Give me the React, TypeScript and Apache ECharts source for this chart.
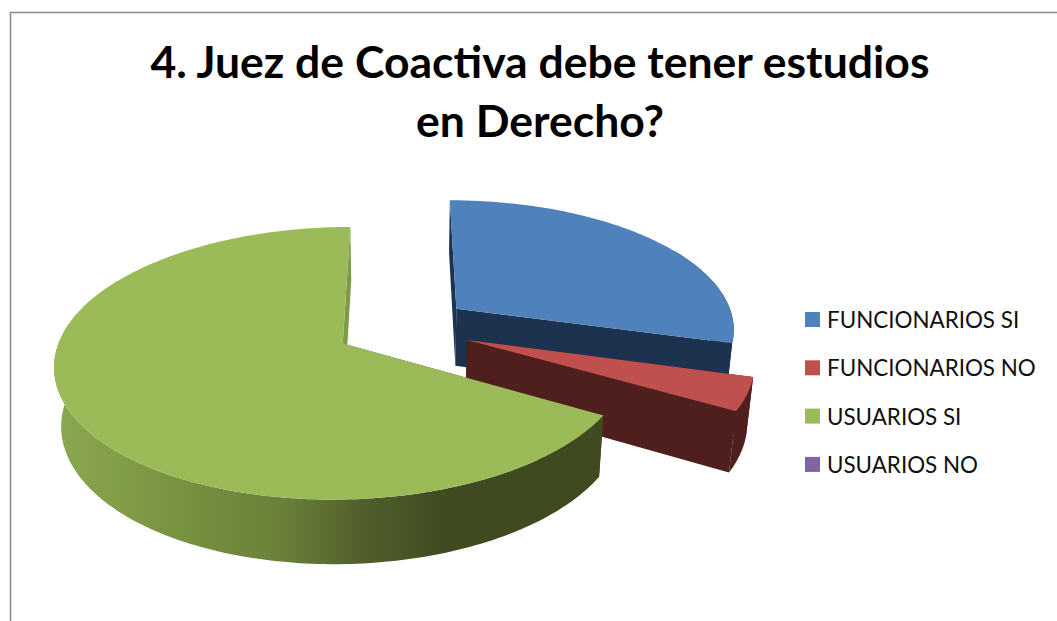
import React, { useEffect, useRef } from "react";
import * as echarts from "echarts";

// Survey answers for question 4, one slice per legend entry.
const categories = ["FUNCIONARIOS SI", "FUNCIONARIOS NO", "USUARIOS SI", "USUARIOS NO"];
const values = [22, 3, 50, 0];
const topColors = ["#4f81bd", "#c0504d", "#9bbb59", "#8064a2"];
const wallColors = ["#1d324f", "#4f1f1e", "#7f9b49", "#40304f"];
const titleText = "4. Juez de Coactiva debe tener estudios\nen Derecho?";

// Camera used to project the pie's unit disc onto the canvas.
const VX = 403;
const VY = 327.5;
const SCALE_X = 285;
const SCALE_Y = 131.5;
const THICKNESS = 59;
const PERSPECTIVE = 0.145;
const DEPTH_SHRINK = 0.02;
const RADIUS = 0.98;
const EXPLODE = 0.24;
const START_ANGLE = 0;
// Only this range of the rim faces the viewer.
const RIM_FROM = 60;
const RIM_TO = 300;

type Pt = [number, number];

const project = (X: number, Y: number, z: number): Pt => {
  const w = 1 + PERSPECTIVE * Y + DEPTH_SHRINK * z;
  return [VX + (SCALE_X * X) / w, VY - (SCALE_Y * Y - THICKNESS * z) / w];
};

const total = values.reduce((a, b) => a + b, 0);

const sliceAngles = values.map((v, i) => {
  const before = values.slice(0, i).reduce((a, b) => a + b, 0);
  const from = START_ANGLE + (before / total) * 360;
  return { from, to: from + (v / total) * 360 };
});

const rad = (deg: number) => (deg * Math.PI) / 180;

// Green's rim fades from lit to shadowed across the width of the pie.
const rimFill = (i: number): any =>
  i === 2
    ? new echarts.graphic.LinearGradient(
        54,
        0,
        450,
        0,
        [
          { offset: 0, color: "#8ba94f" },
          { offset: 0.35, color: "#75903f" },
          { offset: 0.58, color: "#6a8039" },
          { offset: 0.78, color: "#515f2c" },
          { offset: 1, color: "#3f4a20" },
        ],
        true,
      )
    : wallColors[i];

const renderSlice = (i: number) => (_params: any, api: any) => {
  const value = api.value(0);
  if (!value) return { type: "group", children: [] };
  const { from, to } = sliceAngles[i];
  const mid = rad((from + to) / 2);
  const cx = EXPLODE * Math.sin(mid);
  const cy = EXPLODE * Math.cos(mid);

  const rimPoint = (deg: number, z: number) =>
    project(cx + RADIUS * Math.sin(rad(deg)), cy + RADIUS * Math.cos(rad(deg)), z);
  const apex = (z: number) => project(cx, cy, z);

  const arc: number[] = [];
  for (let a = from; a < to; a += 1) arc.push(a);
  arc.push(to);

  const rimArc = arc.filter((a) => a >= RIM_FROM && a <= RIM_TO);
  const topArc = arc.map((a) => rimPoint(a, 0));
  const rimTop = rimArc.map((a) => rimPoint(a, 0));
  const rimBottom = rimArc.map((a) => rimPoint(a, 1));
  const poly = (points: Pt[], fill: any) => ({
    type: "polygon",
    shape: { points },
    style: { fill, stroke: "none" },
  });

  return {
    type: "group",
    children: [
      poly([apex(0), rimPoint(from, 0), rimPoint(from, 1), apex(1)], i === 2 ? "#3f4a20" : wallColors[i]),
      poly([apex(0), rimPoint(to, 0), rimPoint(to, 1), apex(1)], wallColors[i]),
      poly([...rimTop, ...rimBottom.slice().reverse()], rimFill(i)),
      poly([apex(0), ...topArc], topColors[i]),
    ],
  };
};

export default function App() {
  const ref = useRef<HTMLDivElement>(null);

  useEffect(() => {
    const chart = echarts.init(ref.current!, null, { renderer: "svg" });
    chart.setOption({
      animation: false,
      backgroundColor: "#ffffff",
      title: {
        text: titleText,
        left: 535,
        top: 26,
        textAlign: "center",
        textStyle: {
          fontFamily: "Lato",
          fontWeight: "bold",
          fontSize: 44.5,
          lineHeight: 59,
          color: "#000000",
        },
      },
      legend: {
        data: categories,
        orient: "vertical",
        left: 805,
        top: 308.5,
        padding: 0,
        icon: "rect",
        itemWidth: 15,
        itemHeight: 15,
        itemGap: 26.3,
        selectedMode: false,
        textStyle: { fontFamily: "Lato", fontSize: 22.4, lineHeight: 22, color: "#111111", padding: [0, 0, 0, 2] },
      },
      graphic: [
        {
          type: "polyline",
          shape: { points: [[10.5, 621], [10.5, 12.5], [1057, 12.5]] },
          style: { fill: "none", stroke: "#8c8c8c", lineWidth: 1.6 },
          silent: true,
        },
      ],
      series: categories.map((name, i) => ({
        name,
        type: "custom",
        coordinateSystem: "none",
        itemStyle: { color: topColors[i] },
        renderItem: renderSlice(i),
        data: [[values[i]]],
        silent: true,
      })),
    });
    return () => chart.dispose();
  }, []);

  return <div ref={ref} style={{ position: "fixed", left: 0, top: 0, width: 1057, height: 621 }} />;
}
